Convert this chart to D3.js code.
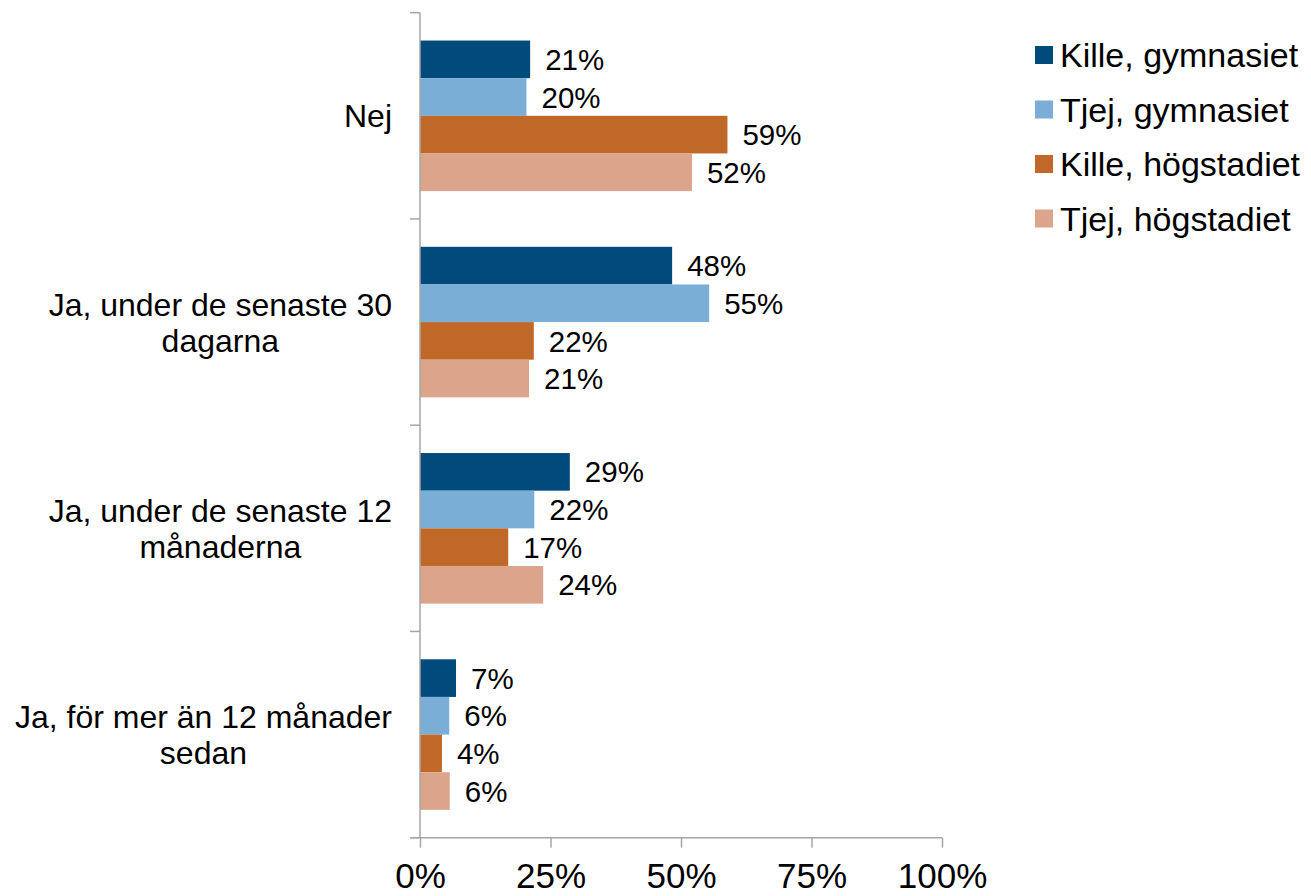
<!DOCTYPE html>
<html>
<head>
<meta charset="utf-8">
<script src="https://cdn.jsdelivr.net/npm/d3@7"></script>
<style>
  html, body { margin: 0; padding: 0; background: #fff; }
  svg { display: block; font-family: "Liberation Sans", Arial, sans-serif; }
</style>
</head>
<body>
<svg id="chart" width="1311" height="896"></svg>
<script>
// ---- Data ----
const categories = [
  ["Nej"],
  ["Ja, under de senaste 30", "dagarna"],
  ["Ja, under de senaste 12", "månaderna"],
  ["Ja, för mer än 12 månader", "sedan"]
];
const seriesNames = ["Kille, gymnasiet", "Tjej, gymnasiet", "Kille, högstadiet", "Tjej, högstadiet"];
const killeGymnasiet  = [21.1, 48.3, 28.7, 6.9];
const tjejGymnasiet   = [20.4, 55.4, 21.9, 5.6];
const killeHogstadiet = [58.9, 21.8, 16.9, 4.2];
const tjejHogstadiet  = [52.1, 20.9, 23.6, 5.7];
const xTicks = [0, 25, 50, 75, 100];
const colors = ["#004a7c", "#7aaed6", "#c06828", "#dca48b"];

const seriesValues = [killeGymnasiet, tjejGymnasiet, killeHogstadiet, tjejHogstadiet];

const svg = d3.select("#chart");

const x = d3.scaleLinear().domain([0, 100]).range([420, 942]);
const catIdx = categories.map((c, i) => i);
const y0 = d3.scaleBand().domain(catIdx).range([12.7, 837.7])
  .paddingInner(0.27).paddingOuter(0.135);
const y1 = d3.scaleBand().domain(d3.range(seriesNames.length)).range([0, y0.bandwidth()]);

const axisColor = "#a6a6a6";

// Bars
const groups = svg.append("g").selectAll("g")
  .data(catIdx).join("g")
  .attr("transform", i => `translate(0,${y0(i)})`);

groups.selectAll("rect")
  .data(i => seriesValues.map((vals, s) => ({ s, v: vals[i] })))
  .join("rect")
  .attr("x", x(0))
  .attr("y", d => y1(d.s))
  .attr("width", d => x(d.v) - x(0))
  .attr("height", y1.bandwidth())
  .attr("fill", d => colors[d.s]);

groups.selectAll("text.val")
  .data(i => seriesValues.map((vals, s) => ({ s, v: vals[i] })))
  .join("text")
  .attr("class", "val")
  .attr("x", d => x(d.v) + 15)
  .attr("y", d => y1(d.s) + y1.bandwidth() / 2)
  .attr("dy", "0.36em")
  .attr("font-size", 29.5)
  .attr("fill", "#000")
  .text(d => Math.round(d.v) + "%");

// Y axis line and ticks at band boundaries
const step = y0.step();
const yStart = y0.range()[0];
svg.append("line")
  .attr("x1", x(0)).attr("x2", x(0))
  .attr("y1", yStart).attr("y2", y0.range()[1])
  .attr("stroke", axisColor).attr("stroke-width", 1.5);
svg.append("g").selectAll("line")
  .data(d3.range(categories.length + 1))
  .join("line")
  .attr("x1", x(0) - 10).attr("x2", x(0))
  .attr("y1", k => yStart + k * step).attr("y2", k => yStart + k * step)
  .attr("stroke", axisColor).attr("stroke-width", 1.5);

// X axis
const xAxis = d3.axisBottom(x).tickValues(xTicks).tickSize(10).tickPadding(15)
  .tickFormat(d => d + "%");
const gx = svg.append("g")
  .attr("transform", `translate(0,${y0.range()[1]})`)
  .call(xAxis);
gx.select(".domain").remove();
gx.append("line").attr("x1", x(0) - 10).attr("x2", x(100))
  .attr("stroke", axisColor).attr("stroke-width", 1.5);
gx.selectAll(".tick line").attr("stroke", axisColor).attr("stroke-width", 1.5);
gx.selectAll(".tick text").attr("font-size", 35).attr("fill", "#000")
  .attr("font-family", "'Liberation Sans', Arial, sans-serif");

// Category labels
const labelRight = 392;
const lineH = 36;
categories.forEach((lines, i) => {
  const cy = y0(i) + y0.bandwidth() / 2;
  const t = svg.append("text")
    .attr("font-size", 32)
    .attr("fill", "#000");
  const n = lines.length;
  const spans = lines.map((ln, k) => t.append("tspan")
    .attr("y", cy + (k - (n - 1) / 2) * lineH)
    .attr("dy", "0.36em")
    .text(ln));
  const widths = spans.map(s => s.node().getComputedTextLength());
  const maxW = d3.max(widths);
  const center = labelRight - maxW / 2;
  spans.forEach(s => s.attr("x", center).attr("text-anchor", "middle"));
});

// Legend
const legend = svg.append("g");
seriesNames.forEach((name, s) => {
  const cy = 55 + s * 54.5;
  legend.append("rect")
    .attr("x", 1035).attr("y", cy - 9)
    .attr("width", 18).attr("height", 18)
    .attr("fill", colors[s]);
  legend.append("text")
    .attr("x", 1060).attr("y", cy)
    .attr("dy", "0.36em")
    .attr("font-size", 34)
    .attr("fill", "#000")
    .text(name);
});
</script>
</body>
</html>
